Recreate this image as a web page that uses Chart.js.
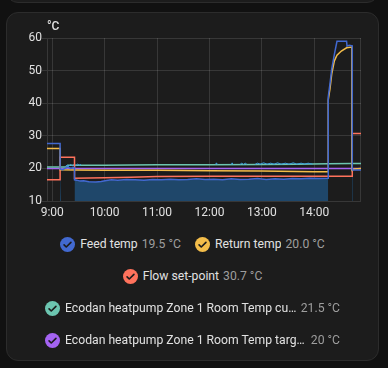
<!DOCTYPE html>
<html>
<head>
<meta charset="utf-8">
<script src="https://cdn.jsdelivr.net/npm/chart.js@4.4.1/dist/chart.umd.min.js"></script>
<style>
  html, body { margin: 0; padding: 0; width: 388px; height: 368px; overflow: hidden; background: #111111; font-family: Roboto, sans-serif; }
  .card { position: absolute; left: 6px; width: 371px; background: #1c1c1c; border: 1px solid #2c2c2c; border-radius: 12px; }
  #prev { top: -40px; height: 41px; }
  #main { top: 12px; height: 347px; }
  #chart { position: absolute; left: 0; top: 0; }
  #unit { position: absolute; left: 47px; top: 19px; color: #e1e1e1; font-size: 12px; font-weight: 500; }
  #legend { position: absolute; left: 6px; top: 228px; width: 373px; display: flex; flex-wrap: wrap; justify-content: center; column-gap: 14px; }
  .item { display: flex; align-items: center; height: 32px; max-width: 295px; min-width: 0; font-size: 12.2px; }
  .item svg { flex-shrink: 0; }
  .label { margin-left: 5px; color: #e1e1e1; white-space: nowrap; overflow: hidden; text-overflow: ellipsis; min-width: 0; }
  .value { margin-left: 4px; color: #9e9e9e; white-space: nowrap; flex-shrink: 0; }
</style>
</head>
<body>
<div class="card" id="prev"></div>
<div class="card" id="main"></div>
<canvas id="chart" width="388" height="225"></canvas>
<div id="unit">°C</div>
<div id="legend"></div>
<script>
// x range of the history window
const xStart = "8:54";
const xEnd = "14:53.5";

const names = ["Feed temp", "Return temp", "Flow set-point",
  "Ecodan heatpump Zone 1 Room Temp current", "Ecodan heatpump Zone 1 Room Temp target"];
const colors = ["#4269d0", "#f4bd4a", "#ff725c", "#6cc5b0", "#a463f2"];
const latest = ["19.5 °C", "20.0 °C", "30.7 °C", "21.5 °C", "20 °C"];

const feedTimes = ["8:54","9:09","9:09","9:12","9:15","9:18","9:21","9:25.5","9:25.5","9:28","9:32","9:36","9:42","9:50","9:56",
  "10:02","10:08","10:15","10:25","10:35","10:45","10:55","11:05","11:15","11:25","11:35","11:45","11:55",
  "12:05","12:15","12:25","12:35","12:45","12:55","13:05","13:15","13:25","13:35","13:45","13:55","14:05",
  "14:16","14:16","14:18","14:20","14:23","14:26","14:37","14:37.5","14:40","14:43.5","14:43.5","14:53.5"];
const feedValues = [27.6,27.6,19.8,19.6,20.1,20.4,20.0,20.3,16.5,16.4,16.1,16.2,15.9,15.8,16.0,
  16.3,16.5,16.4,16.6,16.5,16.4,16.6,16.5,16.7,16.5,16.6,16.8,16.6,
  16.7,16.5,16.8,16.6,16.7,16.9,16.6,16.8,16.7,16.9,16.8,17.0,16.9,
  17.0,42.0,46.0,50.5,55.0,59.0,59.0,57.5,57.8,57.6,19.5,19.5];

const returnTimes = ["8:54","9:09","9:09","9:25.5","10:00","11:00","12:00","13:00","14:00","14:16","14:16",
  "14:18","14:20","14:23","14:26","14:31","14:37","14:43","14:43","14:46","14:53.5"];
const returnValues = [26.1,26.1,19.6,19.5,19.4,19.4,19.3,19.2,19.0,19.0,41.0,
  44.5,49.0,53.0,54.7,56.0,57.0,57.2,19.4,19.8,20.0];

const flowTimes = ["8:54","9:09","9:09","9:25.5","9:25.5","10:00","10:30","11:00","12:00","13:00","14:43.5","14:43.5","14:53.5"];
const flowValues = [16.5,16.5,23.4,23.4,17.0,17.1,17.3,17.5,17.6,17.6,17.6,30.7,30.7];

const currentTimes = ["8:54","9:18","9:18","10:00","11:00","12:00","13:00","13:40","14:16","14:43","14:53.5"];
const currentValues = [20.4,20.4,21.0,21.0,21.1,21.1,21.2,21.3,21.4,21.5,21.5];

const targetTimes = ["8:54","14:53.5"];
const targetValues = [20, 20];

// jittery light blue trace around the room temperature
const noiseTimes = ["9:15","9:17","9:19","9:21","9:23","9:25","9:27","9:29","9:31","9:33","9:34",
  "12:07","12:08","12:09","12:09",
  "12:25","12:26","12:27","12:27",
  "12:35","12:37","12:39","12:41","12:43","12:43",
  "12:52","12:55","12:58","13:02","13:06","13:10","13:14","13:18","13:22","13:27","13:31","13:36","13:40","13:45","13:49","13:53","13:58","13:58"];
const noiseValues = [20.6,21.0,20.7,21.2,20.8,21.2,20.9,21.3,21.0,21.2,null,
  21.2,21.7,21.2,null,
  21.2,21.7,21.2,null,
  21.2,21.6,21.2,21.6,21.2,null,
  21.2,21.6,21.3,21.7,21.3,21.6,21.3,21.7,21.3,21.6,21.3,21.7,21.3,21.6,21.3,21.6,21.3,null];

// filled heating area
const heatTimes = ["9:09","9:10","9:10","9:25.5","9:36","9:50","10:02","10:15","10:35","11:00","11:30","12:00",
  "12:30","13:00","13:30","14:00","14:16","14:16","14:43.5","14:44.5"];
const heatValues = [20.5,20.5,null,16.5,16.2,15.8,16.3,16.4,16.5,16.5,16.6,16.6,
  16.7,16.7,16.8,16.9,17.0,null,19.5,19.5];

const toHours = s => { const p = s.split(":"); return Number(p[0]) + Number(p[1]) / 60; };
const pts = (times, values) => times.map((t, i) => ({ x: toHours(t), y: values[i] }));

const line = (data, color, width) => ({ data, borderColor: color, borderWidth: width, backgroundColor: color, fill: false, pointRadius: 0 });

const gridColor = "rgba(255,255,255,0.12)";

const frame = {
  id: "frame",
  beforeDatasetsDraw(chart) {
    const { ctx, chartArea } = chart;
    ctx.save();
    ctx.strokeStyle = gridColor;
    ctx.lineWidth = 1;
    ctx.beginPath();
    ctx.moveTo(chartArea.right - 0.5, chartArea.top);
    ctx.lineTo(chartArea.right - 0.5, chartArea.bottom);
    ctx.stroke();
    ctx.restore();
  }
};

new Chart(document.getElementById("chart").getContext("2d"), {
  type: "line",
  data: {
    datasets: [
      line(pts(feedTimes, feedValues), colors[0], 1.5),
      line(pts(returnTimes, returnValues), colors[1], 1.5),
      line(pts(flowTimes, flowValues), colors[2], 1.5),
      line(pts(noiseTimes, noiseValues), "#3d9fe0", 1),
      line(pts(currentTimes, currentValues), colors[3], 1.5),
      line(pts(targetTimes, targetValues), colors[4], 1.5),
      { data: pts(heatTimes, heatValues), borderWidth: 0, pointRadius: 0, fill: "start", backgroundColor: "rgb(31,71,106)" }
    ]
  },
  options: {
    responsive: false,
    animation: false,
    layout: { padding: { top: 38, right: 27, left: 0, bottom: 0 } },
    plugins: { legend: { display: false }, tooltip: { enabled: false } },
    scales: {
      x: {
        type: "linear",
        min: toHours(xStart),
        max: toHours(xEnd),
        afterFit: s => { s.height = 24; },
        grid: { color: gridColor, drawTicks: false },
        border: { display: false },
        ticks: {
          stepSize: 1, includeBounds: false, autoSkip: false, maxRotation: 0, padding: 5,
          color: "#e1e1e1", font: { family: "Roboto", size: 12 },
          callback: v => v + ":00"
        }
      },
      y: {
        min: 10,
        max: 60,
        afterFit: s => { s.width = 47; },
        grid: { color: gridColor, tickLength: 5 },
        border: { color: gridColor },
        ticks: { stepSize: 10, padding: 0, color: "#e1e1e1", font: { family: "Roboto", size: 12 } }
      }
    }
  },
  plugins: [frame]
});

const legend = document.getElementById("legend");
names.forEach((name, i) => {
  const item = document.createElement("div");
  item.className = "item";
  item.innerHTML =
    '<svg width="15" height="15" viewBox="0 0 24 24"><circle cx="12" cy="12" r="12" fill="' + colors[i] + '"/>' +
    '<path d="M6.5 12.5l3.5 3.5 7.5-7.5" fill="none" stroke="#1c1c1c" stroke-width="2.6" stroke-linecap="round" stroke-linejoin="round"/></svg>' +
    '<span class="label">' + name + '</span><span class="value">' + latest[i] + '</span>';
  legend.appendChild(item);
});
</script>
</body>
</html>
